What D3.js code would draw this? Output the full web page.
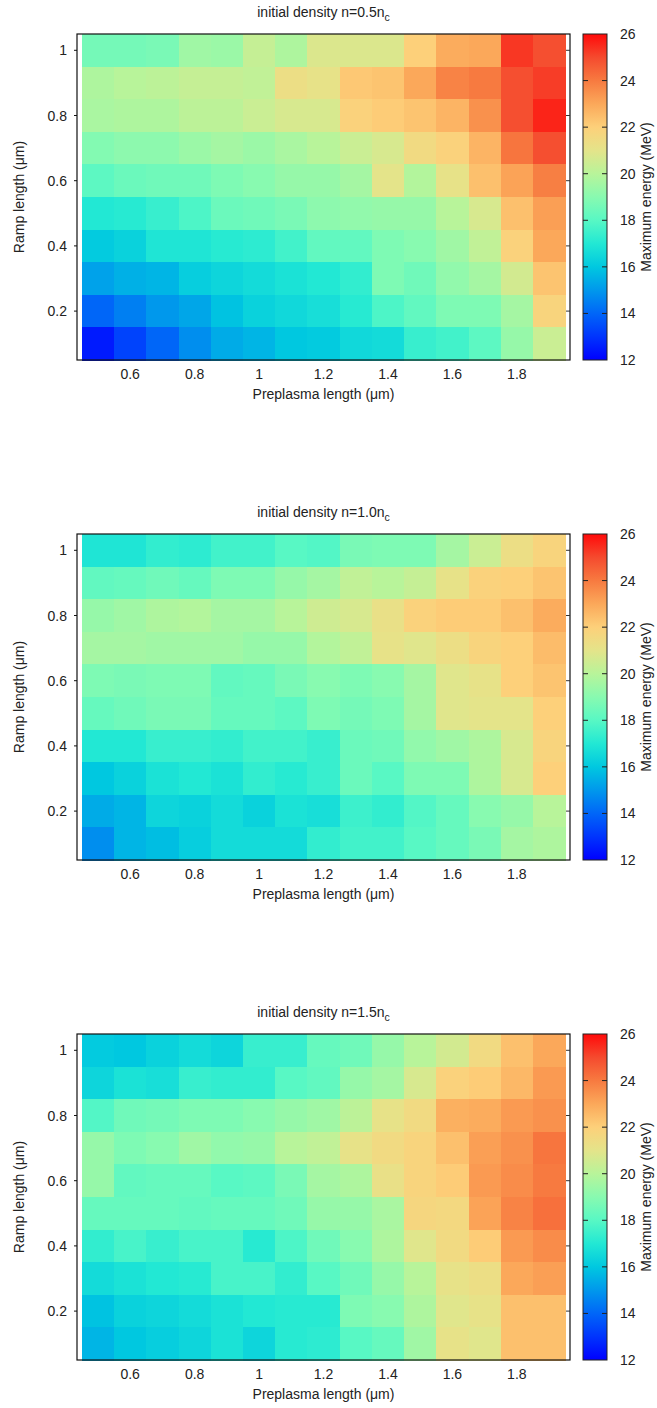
<!DOCTYPE html>
<html><head><meta charset="utf-8">
<script src="https://cdn.jsdelivr.net/npm/d3@7/dist/d3.min.js"></script>
<style>
body{margin:0;background:#fff;}
text{font-family:"Liberation Sans",Arial,Helvetica,sans-serif;fill:#222;}
</style></head>
<body><svg id="c" width="657" height="1408"></svg>
<script>
// ---------- data ----------
const preplasma = [0.5,0.6,0.7,0.8,0.9,1.0,1.1,1.2,1.3,1.4,1.5,1.6,1.7,1.8,1.9];
const ramp = [1.0,0.9,0.8,0.7,0.6,0.5,0.4,0.3,0.2,0.1]; // rows, top to bottom
const xTicks = [0.6,0.8,1.0,1.2,1.4,1.6,1.8];
const yTicks = [0.2,0.4,0.6,0.8,1.0];
const cbTicks = [12,14,16,18,20,22,24,26];
const densityLabels = ["0.5","1.0","1.5"];

const energyN05 = [
 [18.6,18.6,18.7,19.5,19.4,20.3,19.8,20.8,20.8,20.8,22.0,22.9,23.0,25.3,24.9],
 [19.8,20.0,20.1,20.3,20.3,20.2,21.3,21.1,22.2,22.3,23.0,23.8,24.0,24.9,25.2],
 [19.7,19.8,19.8,20.1,20.1,20.4,20.7,20.7,21.9,22.1,22.3,22.7,23.5,24.9,25.6],
 [18.9,19.1,19.1,19.4,19.6,19.4,19.7,20.0,20.4,20.7,21.5,21.9,22.7,24.1,24.9],
 [18.1,18.4,18.5,18.5,18.8,19.0,19.3,19.3,19.6,21.0,19.9,21.1,22.4,23.1,23.9],
 [17.0,17.1,17.4,17.8,18.4,18.5,18.7,19.1,19.2,19.3,19.3,20.0,20.7,22.4,23.2],
 [16.1,16.3,16.9,16.9,17.1,17.2,17.6,18.2,18.2,18.8,19.0,19.5,20.2,21.9,23.0],
 [15.2,15.5,15.6,16.2,16.4,16.6,16.8,17.0,17.3,18.8,18.5,19.2,19.6,20.6,22.3],
 [14.0,14.5,15.0,15.3,15.9,16.3,16.5,16.7,17.1,17.8,18.2,18.8,18.8,19.6,21.8],
 [12.5,13.3,14.0,14.8,15.4,15.6,16.0,16.1,16.5,16.6,17.4,17.6,18.1,19.3,20.4]
];
const energyN10 = [
 [16.9,16.9,17.3,17.2,17.6,17.6,18.0,17.9,18.7,18.8,18.8,19.6,20.4,21.3,21.8],
 [18.2,18.3,18.5,18.3,18.8,18.8,19.3,19.6,20.2,20.0,20.3,21.1,21.9,22.0,22.3],
 [19.3,19.5,19.8,19.9,19.6,19.6,20.0,20.5,20.7,21.2,21.9,22.1,22.1,22.4,22.9],
 [19.6,19.6,19.5,19.5,19.5,19.3,19.3,19.9,20.2,21.1,20.9,21.3,21.8,22.0,22.5],
 [18.8,18.7,18.8,18.8,18.2,18.3,18.7,19.0,18.8,19.0,19.6,20.9,21.1,22.0,22.3],
 [18.3,18.5,18.7,18.7,18.3,18.3,18.1,18.8,18.6,18.8,19.6,20.9,21.0,21.0,22.0],
 [17.0,17.0,17.4,17.4,17.3,17.6,17.6,17.4,18.4,18.5,19.2,19.5,19.8,20.7,21.8],
 [16.0,16.3,16.8,17.0,16.8,17.3,17.1,17.4,18.4,18.0,18.8,18.8,19.8,20.7,22.0],
 [15.4,15.6,16.4,16.3,16.6,16.3,16.8,16.7,17.5,17.3,17.9,18.3,19.0,19.3,20.0],
 [14.8,15.6,15.8,16.2,16.6,16.6,16.6,17.3,17.6,17.6,18.0,18.3,18.7,19.6,19.8]
];
const energyN15 = [
 [16.1,16.0,16.3,16.6,16.4,17.4,17.4,18.3,18.5,19.3,20.0,20.6,21.5,22.4,23.0],
 [16.4,16.8,16.7,17.4,17.3,17.3,18.0,18.2,19.3,19.6,20.7,21.9,22.1,22.6,23.3],
 [17.9,18.5,18.6,18.8,18.8,19.0,19.3,19.5,20.1,21.1,21.5,22.8,22.9,23.3,23.5],
 [19.3,18.8,19.0,19.5,19.2,19.3,20.0,20.2,21.1,21.5,21.8,22.4,23.2,23.5,24.1],
 [19.3,18.2,18.3,18.3,18.0,18.1,18.7,19.6,19.8,21.2,21.8,22.1,23.3,23.6,24.0],
 [18.3,18.3,18.3,18.2,18.3,18.3,18.5,19.3,19.3,19.7,21.7,21.6,23.1,23.8,24.2],
 [17.3,17.7,17.4,17.7,17.7,17.1,17.8,18.5,19.0,19.8,20.9,21.5,22.1,23.3,23.6],
 [16.6,16.8,17.0,17.1,17.7,17.7,17.3,18.0,18.5,19.3,20.0,21.1,21.3,23.0,23.2],
 [15.9,16.3,16.4,16.6,16.8,17.0,17.1,17.1,18.8,19.0,19.8,20.9,21.1,22.4,22.4],
 [15.6,16.0,16.2,16.4,16.8,16.4,17.1,17.2,18.0,18.3,19.5,21.1,20.9,22.4,22.4]
];
const panels = [energyN05, energyN10, energyN15];

// colour palette stops (value -> colour)
const paletteValues = [12,13,14,15,16,17,18,19,20,21,22,23,24,25,26];
const paletteColors = ["#0000ff","#0034fd","#0066f8","#0098ec","#00c8e0","#22e8d4","#58f8c4","#88fab0","#b8f49a","#e4e48a","#fdd07a","#fba85a","#f77a40","#f54a2e","#ff0a0a"];

// ---------- drawing ----------
const svg = d3.select("#c");
const color = d3.scaleLinear().domain(paletteValues).range(paletteColors).clamp(true);
const L = 77, R = 570, T = 34, B = 360, PANEL_DY = 500;
const cbL = 583, cbR = 607;
const x = d3.scaleLinear().domain([0.435,1.965]).range([L,R]);
const y = d3.scaleLinear().domain([0.05,1.05]).range([B,T]);
const cbY = d3.scaleLinear().domain([12,26]).range([B,T]);
const FS = 14;

panels.forEach((data, pi) => {
  const g = svg.append("g").attr("transform", `translate(0,${pi*PANEL_DY})`);
  const cells = [];
  data.forEach((row, ri) => row.forEach((v, ci) => cells.push({xc: preplasma[ci], yc: ramp[ri], v})));
  const x0 = d => Math.max(d.xc - 0.05, x.domain()[0]);
  const x1 = d => Math.min(d.xc + 0.05, x.domain()[1]);
  g.append("g").selectAll("rect").data(cells).join("rect")
    .attr("x", d => x(x0(d)))
    .attr("width", d => x(x1(d)) - x(x0(d)) + 0.5)
    .attr("y", d => y(d.yc + 0.05))
    .attr("height", d => y(d.yc - 0.05) - y(d.yc + 0.05) + 0.5)
    .attr("fill", d => color(d.v))
    .attr("shape-rendering","crispEdges");

  // frame
  g.append("rect").attr("x",L).attr("y",T).attr("width",R-L).attr("height",B-T)
    .attr("fill","none").attr("stroke","#111").attr("stroke-width",1.2);

  // y ticks
  yTicks.forEach(t => {
    g.append("line").attr("x1",L-3).attr("x2",L).attr("y1",y(t)).attr("y2",y(t)).attr("stroke","#111");
    g.append("line").attr("x1",R-4).attr("x2",R).attr("y1",y(t)).attr("y2",y(t)).attr("stroke","#333");
    g.append("text").attr("x",L-10).attr("y",y(t)).attr("dy","0.36em").attr("text-anchor","end")
      .attr("font-size",FS).text(d3.format("~g")(t));
  });
  // x ticks
  xTicks.forEach(t => {
    g.append("text").attr("x",x(t)).attr("y",B+19).attr("text-anchor","middle")
      .attr("font-size",FS).text(d3.format("~g")(t));
  });
  // axis labels
  g.append("text").attr("x",(L+R)/2).attr("y",B+39).attr("text-anchor","middle").attr("font-size",FS)
    .text("Preplasma length (μm)");
  g.append("text").attr("transform",`translate(24,${(T+B)/2}) rotate(-90)`).attr("text-anchor","middle")
    .attr("font-size",FS).text("Ramp length (μm)");
  // title
  const title = g.append("text").attr("x",(L+R)/2).attr("y",17).attr("text-anchor","middle").attr("font-size",FS);
  title.append("tspan").text(`initial density n=${densityLabels[pi]}n`);
  title.append("tspan").attr("font-size",FS*0.75).attr("dy",4).text("c");

  // colour bar
  const defs = g.append("defs");
  const gid = "cbgrad"+pi;
  const grad = defs.append("linearGradient").attr("id",gid).attr("x1",0).attr("x2",0).attr("y1",1).attr("y2",0);
  paletteValues.forEach((v,i) => grad.append("stop").attr("offset",(v-12)/14).attr("stop-color",paletteColors[i]));
  g.append("rect").attr("x",cbL).attr("y",T).attr("width",cbR-cbL).attr("height",B-T)
    .attr("fill",`url(#${gid})`).attr("stroke","#222").attr("stroke-width",1);
  cbTicks.forEach(t => {
    if (t>12 && t<26) {
      g.append("line").attr("x1",cbL).attr("x2",cbL+5).attr("y1",cbY(t)).attr("y2",cbY(t)).attr("stroke","#222");
      g.append("line").attr("x1",cbR-5).attr("x2",cbR).attr("y1",cbY(t)).attr("y2",cbY(t)).attr("stroke","#222");
    }
    g.append("text").attr("x",620).attr("y",cbY(t)).attr("dy","0.36em").attr("font-size",FS).text(t);
  });
  g.append("text").attr("transform",`translate(651,${(T+B)/2}) rotate(-90)`).attr("text-anchor","middle")
    .attr("font-size",FS).text("Maximum energy (MeV)");
});
</script></body></html>
